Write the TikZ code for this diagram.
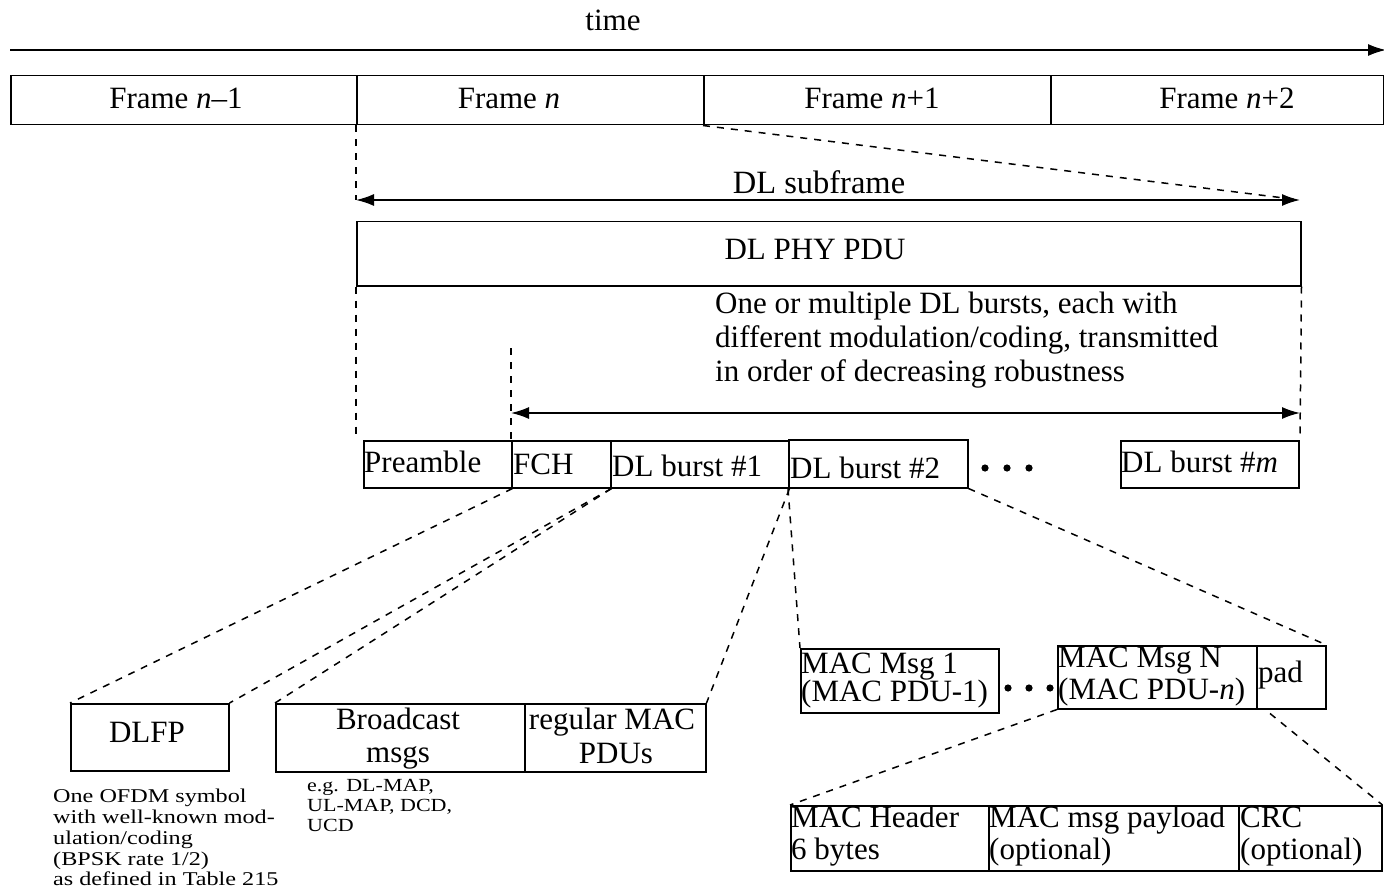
\documentclass[tikz,border=0pt]{standalone}
\usepackage{fontspec}
\setmainfont{Liberation Serif}
\newfontfamily\widenoteA[FakeStretch=1.24]{Liberation Serif}
\newfontfamily\widenoteB[FakeStretch=1.19]{Liberation Serif}
\usetikzlibrary{arrows.meta}
\newcommand\tightlines{\lineskiplimit=-50pt\relax}
\begin{document}
\begin{tikzpicture}[x=1pt,y=-1pt,
  box/.style={draw, line width=1.5pt, inner sep=0pt, anchor=north west, rectangle},
  lbl/.style={font=\fontsize{31}{34}\selectfont, inner sep=0pt, anchor=base west},
  clbl/.style={font=\fontsize{31}{34}\selectfont, inner sep=0pt, anchor=base},
  note/.style={inner sep=0pt, align=left, anchor=north west},
  guide/.style={dash pattern=on 7pt off 7pt, line width=1.5pt},
  solid line/.style={line width=1.6pt},
  tip/.style={-{Latex[length=18pt,width=12pt]}},
  both/.style={{Latex[length=18pt,width=12pt]}-{Latex[length=18pt,width=12pt]}},
  dot/.style={fill=black}
]
\useasboundingbox (0,0) rectangle (1384,896);

% time axis
\coordinate (t0) at (10,50);
\coordinate (t1) at (1386,50);
\draw[solid line, tip] (t0) -- (t1);
\node[clbl] (time) at (613,31) {time};

% frames
\node[box, minimum width=346pt, minimum height=49pt] (f0) at (10,75) {};
\node[box, minimum width=347pt, minimum height=49pt] (f1) at (356,75) {};
\node[box, minimum width=347pt, minimum height=49pt] (f2) at (703,75) {};
\node[box, minimum width=333pt, minimum height=49pt] (f3) at (1050,75) {};
\node[clbl] (f0t) at (176,109) {Frame \textit{n}–1};
\node[clbl] (f1t) at (509,109) {Frame \textit{n}};
\node[clbl] (f2t) at (872,109) {Frame \textit{n}+1};
\node[clbl] (f3t) at (1227,109) {Frame \textit{n}+2};

% DL subframe span
\coordinate (s0) at (356,200);
\coordinate (s1) at (1300,200);
\draw[guide] (f1.south west) -- (s0);
\draw[guide] (f2.south west) -- (s1);
\draw[solid line, both] (s0) -- (s1);
\node[clbl, font=\fontsize{32.5}{34}\selectfont] (subt) at (819,194) {DL subframe};

% PHY PDU
\node[box, minimum width=944pt, minimum height=64pt] (phy) at (356,221) {};
\node[clbl] (phyt) at (815,259) {DL PHY PDU};

\node[note, font=\fontsize{31}{34}\selectfont] (desc) at (715,292)
  {One or multiple DL bursts, each with\\different modulation/coding, transmitted\\in order of decreasing robustness};

% burst row
\node[box, minimum width=148pt, minimum height=47pt] (pre) at (363,440) {};
\node[box, minimum width=99pt, minimum height=47pt] (fch) at (511,440) {};
\node[box, minimum width=178pt, minimum height=47pt] (b1) at (610,440) {};
\node[box, minimum width=179pt, minimum height=48pt] (b2) at (788,439) {};
\node[box, minimum width=178pt, minimum height=47pt] (bm) at (1120,440) {};
\node[lbl] (pret) at (364,472) {Preamble};
\node[lbl] (fcht) at (513,474) {FCH};
\node[lbl] (b1t) at (612,476) {DL burst \#1};
\node[lbl] (b2t) at (790,478) {DL burst \#2};
\node[lbl] (bmt) at (1121,472) {DL burst \#\textit{m}};
\fill[dot] (985,468) circle (3.6pt) (1007,468) circle (3.6pt) (1029,468) circle (3.6pt);

% burst span
\coordinate (p0) at (356,436);
\coordinate (p1) at (1300,437);
\coordinate (r0) at (511,348);
\coordinate (r1) at (511,413);
\coordinate (r2) at (1300,413);
\draw[guide] (phy.south west) -- (p0);
\draw[guide] (phy.south east) -- (p1);
\draw[guide] (r0) -- (fch.north west);
\draw[solid line, both] (r1) -- (r2);

% lower boxes
\node[box, minimum width=158pt, minimum height=67pt] (dlfp) at (70,703) {};
\node[box, minimum width=249pt, minimum height=68pt] (bc) at (275,703) {};
\node[box, minimum width=181pt, minimum height=68pt] (reg) at (524,703) {};
\node[clbl] (dlfpt) at (147,742) {DLFP};
\node[clbl] (bct1) at (398,729) {Broadcast};
\node[clbl] (bct2) at (398,762) {msgs};
\node[clbl] (regt1) at (612,729) {regular MAC};
\node[clbl] (regt2) at (616,763) {PDUs};

\node[note, font=\widenoteA\fontsize{19.5}{20.8}\selectfont\tightlines] (dlfpn) at (53,789)
  {One OFDM symbol\\with well-known mod-\\ulation/coding\\(BPSK rate 1/2)\\as defined in Table 215};
\node[note, font=\widenoteB\fontsize{18.5}{20}\selectfont\tightlines] (bcn) at (307,779)
  {e.g. DL-MAP,\\UL-MAP, DCD,\\UCD};

\node[box, minimum width=198pt, minimum height=64pt] (m1) at (800,648) {};
\node[box, minimum width=199pt, minimum height=63pt] (mn) at (1057,645) {};
\node[box, minimum width=69pt, minimum height=63pt] (pad) at (1256,645) {};
\node[lbl] (m1t1) at (801,673) {MAC Msg 1};
\node[lbl] (m1t2) at (801,701) {(MAC PDU-1)};
\node[lbl] (mnt1) at (1058,667) {MAC Msg N};
\node[lbl] (mnt2) at (1058,699) {(MAC PDU-\textit{n})};
\node[lbl] (padt) at (1258,682) {pad};
\fill[dot] (1008,688) circle (3.6pt) (1029,688) circle (3.6pt) (1050,688) circle (3.6pt);

\node[box, minimum width=198pt, minimum height=65pt] (hdr) at (790,805) {};
\node[box, minimum width=250pt, minimum height=65pt] (pay) at (988,805) {};
\node[box, minimum width=143pt, minimum height=65pt] (crc) at (1238,805) {};
\node[lbl] (hdrt1) at (791,827) {MAC Header};
\node[lbl] (hdrt2) at (791,859) {6 bytes};
\node[lbl] (payt1) at (989,827) {MAC msg payload};
\node[lbl] (payt2) at (989,859) {(optional)};
\node[lbl] (crct1) at (1240,827) {CRC};
\node[lbl] (crct2) at (1240,859) {(optional)};

% expansion guides
\draw[guide] (pre.south east) -- (dlfp.north west);
\draw[guide] (fch.south east) -- (dlfp.north east);
\draw[guide] (fch.south east) -- (bc.north west);
\draw[guide] (b1.south east) -- (reg.north east);
\draw[guide] (b2.south west) -- (m1.north west);
\draw[guide] (b2.south east) -- (pad.north east);
\draw[guide] (mn.south west) -- (hdr.north west);
\draw[guide] ([xshift=14pt,yshift=-4pt]pad.south west) -- (crc.north east);
\end{tikzpicture}
\end{document}
